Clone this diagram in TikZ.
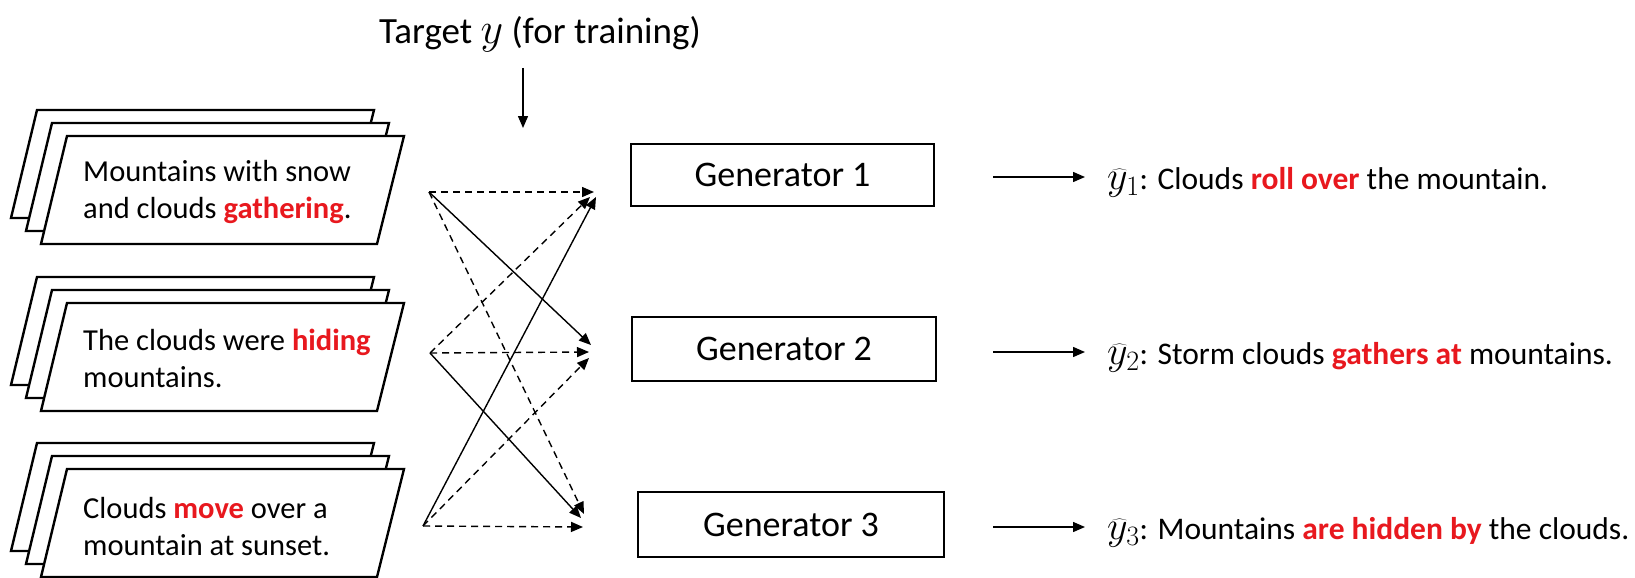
\RequirePackage{fix-cm}
\documentclass[tikz,border=0pt]{standalone}
\usepackage{fontspec}
\setmainfont{Carlito}
\usetikzlibrary{arrows.meta}
\definecolor{hl}{RGB}{232,24,30}
\newcommand{\hlt}[1]{\textcolor{hl}{\textbf{#1}}}
\newcommand{\yhat}[1]{{\fontsize{40}{48}\selectfont$\widehat{y}_{#1}$}}
\begin{document}
\begin{tikzpicture}[x=1pt,y=-1pt,
  layer/.style={draw, line width=2.4pt, fill=white, line join=miter},
  genbox/.style={draw, line width=2.4pt, inner sep=0pt, font=\fontsize{36}{43}\selectfont},
  stacktext/.style={align=left, anchor=west, inner sep=0pt, font=\fontsize{30.5}{37}\selectfont},
  outtext/.style={anchor=base west, inner sep=0pt, font=\fontsize{31.5}{38}\selectfont},
  link/.style={line width=1.4pt, -{Triangle[length=12pt,width=10pt]}},
  weak/.style={link, dash pattern=on 7pt off 5pt}]
\useasboundingbox (0,0) rectangle (1635,578);

% stacks of parallelograms
\foreach \c in {190,357,523}{
  \foreach \o in {30,15,0}{
    \draw[layer] ({41-\o},{\c+54-\o*13/15}) -- ({377-\o},{\c+54-\o*13/15})
      -- ({404-\o},{\c-54-\o*13/15}) -- ({67-\o},{\c-54-\o*13/15}) -- cycle;
  }
}
\node[stacktext] (s1) at (83,192) {Mountains with snow\\and clouds \hlt{gathering}.};
\node[stacktext] (s2) at (83,358) {The clouds were \hlt{hiding}\\mountains.};
\node[stacktext] (s3) at (83,527) {Clouds \hlt{move} over a\\mountain at sunset.};

% title
\node[font=\fontsize{37}{44}\selectfont, inner sep=0pt] (title) at (540,34) {Target {\fontsize{44}{50}\selectfont$y$} (for training)};
\coordinate (d0) at (523,68);
\coordinate (d1) at (523,128);
\draw[link] (d0) -- (d1);

% generators
\node[genbox, minimum width=303pt, minimum height=62pt] (g1) at (782.5,175) {Generator 1};
\node[genbox, minimum width=304pt, minimum height=64pt] (g2) at (784,349) {Generator 2};
\node[genbox, minimum width=306pt, minimum height=65pt] (g3) at (791,524.5) {Generator 3};

% cross connections
\coordinate (O1) at (429,192);
\coordinate (O2) at (430,353);
\coordinate (O3) at (423,526);
\coordinate (T1a) at (594,192);
\coordinate (T1b) at (590,197);
\coordinate (T1c) at (596,197);
\coordinate (T2a) at (591,345);
\coordinate (T2b) at (589,352);
\coordinate (T2c) at (589,358);
\coordinate (T3a) at (584,514);
\coordinate (T3b) at (581,518);
\coordinate (T3c) at (583,527);
\draw[weak] (O1) -- (T1a);
\draw[link] (O1) -- (T2a);
\draw[weak] (O1) -- (T3a);
\draw[weak] (O2) -- (T1b);
\draw[weak] (O2) -- (T2b);
\draw[link] (O2) -- (T3b);
\draw[link] (O3) -- (T1c);
\draw[weak] (O3) -- (T2c);
\draw[weak] (O3) -- (T3c);

% outputs
\coordinate (r1s) at (993,177); \coordinate (r1e) at (1085,177);
\coordinate (r2s) at (993,352); \coordinate (r2e) at (1085,352);
\coordinate (r3s) at (993,527); \coordinate (r3e) at (1085,527);
\draw[link] (r1s) -- (r1e);
\draw[link] (r2s) -- (r2e);
\draw[link] (r3s) -- (r3e);
\node[outtext] (o1) at (1107,189) {\yhat{1}: Clouds \hlt{roll over} the mountain.};
\node[outtext] (o2) at (1107,364) {\yhat{2}: Storm clouds \hlt{gathers at} mountains.};
\node[outtext] (o3) at (1107,539) {\yhat{3}: Mountains \hlt{are hidden by} the clouds.};
\end{tikzpicture}
\end{document}
